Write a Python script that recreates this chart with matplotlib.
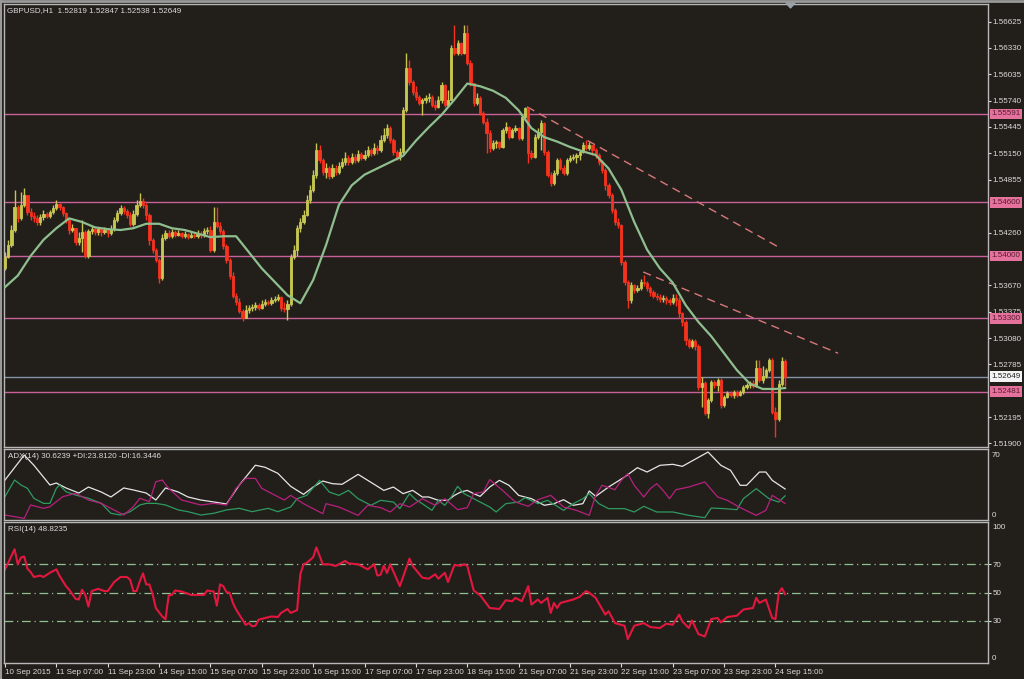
import numpy as np
import matplotlib
matplotlib.use('Agg')
import matplotlib.pyplot as plt
import matplotlib.transforms as mtrans
from matplotlib.lines import Line2D
from matplotlib.patches import Polygon

plt.rcParams['font.family'] = ['Liberation Sans', 'DejaVu Sans']

BG = '#221f1b'
FG = '#dcdcdc'
FRAME = '#b8b8b8'
BULL = '#c6c752'
BEAR = '#f4321e'

TITLE = 'GBPUSD,H1  1.52819 1.52847 1.52538 1.52649'

# hourly bars, 10 Sep 2015 15:00 -> 24 Sep 2015 18:00 (open = previous close)
OPEN0 = 1.5386
CLOSE = [
    1.5399, 1.5412, 1.5429, 1.5455, 1.5442, 1.5457, 1.5468, 1.5449, 1.5445, 1.5442,
    1.5438, 1.5444, 1.5447, 1.5445, 1.5449, 1.5454, 1.5458, 1.5455, 1.5448, 1.5440,
    1.5429, 1.5431, 1.5416, 1.5420, 1.5427, 1.5400, 1.5428, 1.5430, 1.5427, 1.5430,
    1.5427, 1.5429, 1.5426, 1.5430, 1.5440, 1.5448, 1.5454, 1.5450, 1.5446, 1.5436,
    1.5447, 1.5457, 1.5461, 1.5457, 1.5446, 1.5418, 1.5407, 1.5395, 1.5375, 1.5420,
    1.5426, 1.5422, 1.5427, 1.5423, 1.5426, 1.5422, 1.5424, 1.5421, 1.5423, 1.5422,
    1.5424, 1.5423, 1.5428, 1.5429, 1.5407, 1.5438, 1.5433, 1.5428, 1.5411, 1.5395,
    1.5377, 1.5355, 1.5348, 1.5338, 1.5330, 1.5339, 1.5342, 1.5343, 1.5345, 1.5342,
    1.5346, 1.5348, 1.5347, 1.5351, 1.5352, 1.5354, 1.5342, 1.5341, 1.5346, 1.5399,
    1.5407, 1.5431, 1.5438, 1.5446, 1.5463, 1.5474, 1.5491, 1.5519, 1.5507, 1.5494,
    1.5498, 1.5490, 1.5498, 1.5494, 1.5501, 1.5505, 1.5510, 1.5505, 1.5511, 1.5507,
    1.5514, 1.5510, 1.5513, 1.5519, 1.5515, 1.5521, 1.5519, 1.5530, 1.5535, 1.5543,
    1.5530, 1.5516, 1.5511, 1.5516, 1.5563, 1.5610, 1.5595, 1.5584, 1.5578, 1.5571,
    1.5575, 1.5577, 1.5578, 1.5569, 1.5567, 1.5575, 1.5591, 1.5569, 1.5575, 1.5633,
    1.5627, 1.5638, 1.5627, 1.5650, 1.5616, 1.5594, 1.5571, 1.5577, 1.5560, 1.5550,
    1.5538, 1.5521, 1.5526, 1.5528, 1.5522, 1.5541, 1.5544, 1.5533, 1.5541, 1.5543,
    1.5532, 1.5556, 1.5566, 1.5515, 1.5511, 1.5533, 1.5539, 1.5549, 1.5516, 1.5491,
    1.5482, 1.5493, 1.5507, 1.5498, 1.5493, 1.5507, 1.5510, 1.5511, 1.5513, 1.5516,
    1.5524, 1.5521, 1.5524, 1.5519, 1.5513, 1.5505, 1.5496, 1.5479, 1.5468, 1.5451,
    1.5438, 1.5435, 1.5393, 1.5371, 1.5351, 1.5367, 1.5362, 1.5364, 1.5371, 1.5370,
    1.5364, 1.5360, 1.5355, 1.5354, 1.5352, 1.5353, 1.5351, 1.5348, 1.5353, 1.5351,
    1.5336, 1.5326, 1.5306, 1.5299, 1.5305, 1.5299, 1.5253, 1.5258, 1.5224, 1.5239,
    1.5259, 1.5255, 1.5261, 1.5233, 1.5242, 1.5246, 1.5244, 1.5248, 1.5244, 1.5248,
    1.5253, 1.5255, 1.5258, 1.5254, 1.5274, 1.5261, 1.5266, 1.5272, 1.5283, 1.5225,
    1.5217, 1.5257, 1.52819, 1.52649,
]
HIGH = [
    1.5404, 1.5418, 1.5435, 1.5474, 1.5457, 1.5472, 1.5476, 1.5468, 1.5454, 1.5449,
    1.5446, 1.5447, 1.5451, 1.5449, 1.5451, 1.5457, 1.5463, 1.5459, 1.5456, 1.5449,
    1.5442, 1.5436, 1.5431, 1.5427, 1.5440, 1.5429, 1.5430, 1.5433, 1.5432, 1.5432,
    1.5431, 1.5432, 1.5430, 1.5435, 1.5444, 1.5451, 1.5457, 1.5456, 1.5452, 1.5449,
    1.5451, 1.5463, 1.5470, 1.5465, 1.5459, 1.5448, 1.5420, 1.5409, 1.5398, 1.5424,
    1.5429, 1.5429, 1.5430, 1.5429, 1.5429, 1.5427, 1.5428, 1.5426, 1.5427, 1.5427,
    1.5429, 1.5428, 1.5431, 1.5432, 1.5433, 1.5455, 1.5455, 1.5438, 1.5430, 1.5413,
    1.5398, 1.5382, 1.5358, 1.5353, 1.5340, 1.5345, 1.5345, 1.5346, 1.5348, 1.5347,
    1.5351, 1.5352, 1.5351, 1.5354, 1.5355, 1.5357, 1.5355, 1.5348, 1.5351, 1.5402,
    1.5412, 1.5435, 1.5442, 1.5451, 1.5468, 1.5479, 1.5496, 1.5526, 1.5524, 1.5510,
    1.5504, 1.5501, 1.5503, 1.5502, 1.5505, 1.5510, 1.5516, 1.5513, 1.5515, 1.5514,
    1.5519, 1.5516, 1.5519, 1.5523, 1.5521, 1.5526, 1.5524, 1.5535, 1.5543, 1.5548,
    1.5545, 1.5532, 1.5519, 1.5521, 1.5567, 1.5627, 1.5619, 1.5597, 1.5590, 1.5580,
    1.5577, 1.5580, 1.5582, 1.5580, 1.5575, 1.5579, 1.5595, 1.5592, 1.5586, 1.5636,
    1.5659, 1.5642, 1.5640, 1.5659, 1.5659, 1.5619, 1.5594, 1.5582, 1.5579, 1.5562,
    1.5554, 1.5541, 1.5530, 1.5530, 1.5529, 1.5543, 1.5550, 1.5545, 1.5543, 1.5547,
    1.5544, 1.5559, 1.5567, 1.5567, 1.5519, 1.5536, 1.5543, 1.5552, 1.5550, 1.5519,
    1.5494, 1.5496, 1.5510, 1.5510, 1.5502, 1.5510, 1.5513, 1.5514, 1.5515, 1.5519,
    1.5528, 1.5530, 1.5528, 1.5524, 1.5521, 1.5515, 1.5507, 1.5498, 1.5482, 1.5470,
    1.5454, 1.5442, 1.5436, 1.5395, 1.5373, 1.5371, 1.5369, 1.5367, 1.5374, 1.5379,
    1.5372, 1.5366, 1.5362, 1.5358, 1.5357, 1.5356, 1.5355, 1.5353, 1.5357, 1.5357,
    1.5354, 1.5337, 1.5328, 1.5308, 1.5307, 1.5307, 1.5301, 1.5264, 1.5260, 1.5241,
    1.5261, 1.5261, 1.5263, 1.5263, 1.5244, 1.5249, 1.5249, 1.5250, 1.5250, 1.5250,
    1.5255, 1.5258, 1.5260, 1.5261, 1.5283, 1.5283, 1.5277, 1.5274, 1.5286, 1.5286,
    1.5231, 1.5261, 1.5287, 1.52847,
]
LOW = [
    1.5384, 1.5398, 1.5410, 1.5427, 1.5438, 1.5440, 1.5455, 1.5446, 1.5440, 1.5438,
    1.5435, 1.5435, 1.5440, 1.5442, 1.5442, 1.5447, 1.5451, 1.5451, 1.5445, 1.5437,
    1.5425, 1.5427, 1.5412, 1.5412, 1.5404, 1.5398, 1.5398, 1.5425, 1.5423, 1.5423,
    1.5422, 1.5425, 1.5421, 1.5423, 1.5428, 1.5438, 1.5446, 1.5447, 1.5442, 1.5433,
    1.5433, 1.5445, 1.5455, 1.5454, 1.5440, 1.5412, 1.5403, 1.5393, 1.5370, 1.5373,
    1.5418, 1.5420, 1.5420, 1.5421, 1.5422, 1.5420, 1.5420, 1.5419, 1.5420, 1.5420,
    1.5420, 1.5420, 1.5421, 1.5424, 1.5404, 1.5404, 1.5431, 1.5424, 1.5408, 1.5392,
    1.5374, 1.5353, 1.5345, 1.5336, 1.5327, 1.5330, 1.5336, 1.5338, 1.5339, 1.5339,
    1.5341, 1.5344, 1.5345, 1.5345, 1.5348, 1.5350, 1.5338, 1.5337, 1.5328, 1.5344,
    1.5397, 1.5400, 1.5427, 1.5436, 1.5445, 1.5459, 1.5472, 1.5487, 1.5504, 1.5491,
    1.5487, 1.5486, 1.5487, 1.5491, 1.5492, 1.5498, 1.5502, 1.5502, 1.5503, 1.5504,
    1.5505, 1.5507, 1.5507, 1.5511, 1.5512, 1.5513, 1.5514, 1.5516, 1.5528, 1.5532,
    1.5526, 1.5513, 1.5507, 1.5507, 1.5513, 1.5561, 1.5591, 1.5580, 1.5575, 1.5569,
    1.5558, 1.5571, 1.5572, 1.5567, 1.5563, 1.5566, 1.5571, 1.5567, 1.5568, 1.5575,
    1.5625, 1.5625, 1.5625, 1.5626, 1.5614, 1.5590, 1.5568, 1.5569, 1.5558, 1.5548,
    1.5515, 1.5516, 1.5519, 1.5521, 1.5520, 1.5521, 1.5538, 1.5531, 1.5532, 1.5539,
    1.5530, 1.5530, 1.5552, 1.5504, 1.5508, 1.5510, 1.5531, 1.5519, 1.5513, 1.5488,
    1.5478, 1.5479, 1.5491, 1.5496, 1.5491, 1.5491, 1.5505, 1.5507, 1.5504, 1.5507,
    1.5515, 1.5519, 1.5519, 1.5513, 1.5510, 1.5502, 1.5493, 1.5474, 1.5465, 1.5448,
    1.5435, 1.5431, 1.5390, 1.5367, 1.5342, 1.5347, 1.5358, 1.5360, 1.5362, 1.5366,
    1.5361, 1.5355, 1.5353, 1.5351, 1.5348, 1.5348, 1.5346, 1.5345, 1.5346, 1.5344,
    1.5330, 1.5321, 1.5300, 1.5297, 1.5297, 1.5295, 1.5250, 1.5231, 1.5222, 1.5218,
    1.5236, 1.5252, 1.5249, 1.5230, 1.5231, 1.5241, 1.5242, 1.5241, 1.5242, 1.5243,
    1.5245, 1.5251, 1.5252, 1.5252, 1.5253, 1.5259, 1.5258, 1.5263, 1.5270, 1.5223,
    1.5197, 1.5215, 1.5254, 1.52538,
]

# moving average (sampled every 4 bars)
MA_T = list(range(0, 241, 4)) + [243]
MA_V = [
    1.5365, 1.5378, 1.5400, 1.5418, 1.5431, 1.5442, 1.5438, 1.5432, 1.5430, 1.5429,
    1.5431, 1.5436, 1.5436, 1.5431, 1.5429, 1.5425, 1.5421, 1.5422, 1.5422, 1.5404,
    1.5386, 1.5371, 1.5356, 1.5347, 1.5373, 1.5412, 1.5457, 1.5479, 1.5491, 1.5498,
    1.5505, 1.5512, 1.5529, 1.5544, 1.5558, 1.5575, 1.5593, 1.5590, 1.5585, 1.5577,
    1.5563, 1.5543, 1.5533, 1.5528, 1.5522, 1.5517, 1.5513, 1.5498, 1.5474, 1.5438,
    1.5407, 1.5386, 1.5370, 1.5345, 1.5326, 1.5310, 1.5291, 1.5272, 1.5257, 1.5251,
    1.5251, 1.5252,
]

LEVELS = [1.55591, 1.54600, 1.54000, 1.53300, 1.52481]
LAST = 1.52649
TREND1 = ([162.6, 241.4], [1.5567, 1.5409])
TREND2 = ([198.8, 259.5], [1.5382, 1.5291])

PRICE_TICKS = [1.56625, 1.56330, 1.56035, 1.55740, 1.55445, 1.55150, 1.54855,
               1.54260, 1.53670, 1.53375, 1.53080, 1.52785, 1.52195, 1.51900]

# ADX(14) panel
ADX_T = [0, 6, 9, 14, 16, 19, 23, 26, 30, 33, 37, 40, 44, 47, 50, 54, 57, 61, 65, 69, 73, 78, 81, 85,
         89, 91, 93, 96, 99, 102, 105, 107, 110, 113, 116, 118, 121, 124, 127, 130, 132, 135, 138,
         140, 142, 144, 146, 148, 151, 154, 157, 160, 164, 168, 171, 174, 177, 180, 182, 184, 188,
         193, 197, 200, 204, 208, 211, 214, 219, 223, 226, 229, 231, 235, 237, 239, 243]
ADX_V = [39.4, 64, 54, 34.5, 36.5, 31.6, 26.6, 32.5, 27.6, 22.7, 31.6, 29.6, 26.6, 19.7, 31.6, 27.6,
         22.7, 19.7, 17.8, 15.8, 34.5, 54, 52, 46,
         33.2, 29.2, 25.3, 32.5, 38.4, 35.8, 35.2, 39.1, 45, 39.1, 33.2, 29.2, 32.5, 26, 29.2, 22.7,
         22.7, 19.4, 19.4, 24.3, 27.6, 29.2, 26, 23.3, 32.5, 39.1, 34.2, 24.3, 21, 14.5, 16.1, 20,
         14.5, 16.1, 28.6, 23.3, 32.5, 42.4, 51.6, 47.3, 53.9, 54.9, 52.9, 58.2, 67, 53.9, 49, 34.2,
         34.2, 47.3, 47.3, 39.1, 30.6]
PDI_T = [0, 3, 5, 7, 9, 12, 14, 16, 17, 19, 22, 26, 30, 33, 36, 39, 42, 44, 47, 50, 54, 57, 61, 65,
         69, 73, 77, 82, 85,
         89, 91, 94, 98, 101, 104, 107, 110, 114, 117, 121, 123, 126, 128, 130, 133, 135, 137, 139,
         141, 143, 145, 148, 151, 153, 156, 160, 162, 166, 169, 172, 174, 177, 180, 182, 185, 188,
         193, 196, 199, 203, 208, 213, 218, 220, 224, 228, 230, 234, 238, 241, 243]
PDI_V = [23, 39.4, 34.5, 31.2, 21.4, 16.4, 16.4, 31.2, 34.5, 27.9, 24.6, 21.4, 16.4, 6.6, 4.9, 8.2,
         14.8, 16.4, 16.4, 14.8, 9.9, 8.2, 4.9, 6.6, 9.9, 11.5, 8.2, 11.5, 8.2,
         12.8, 21, 24.3, 39.1, 27.6, 24.3, 29.2, 21, 14.5, 19.4, 17.7, 11.2, 26, 20, 16.1, 9.5, 19.4,
         14.5, 22.7, 33.2, 26, 22.7, 17.7, 12.8, 7.9, 16.1, 17.7, 22, 16.1, 19.4, 13.5, 9.5, 16.1, 21,
         26, 16.1, 11.2, 11.2, 7.9, 13.5, 7.9, 7.9, 4.6, 2.3, 11.8, 11.2, 10.2, 21, 30.9, 21, 17.7, 23.8]
MDI_T = [0, 6, 8, 12, 14, 18, 22, 26, 30, 37, 40, 42, 45, 47, 49, 51, 55, 57, 61, 65, 69, 72, 75, 78,
         80, 84, 87,
         89, 93, 99, 100, 104, 110, 113, 117, 120, 123, 126, 130, 134, 137, 141, 144, 146, 149, 151,
         155, 159, 163, 166, 170, 174, 178, 182, 184, 186, 190, 192, 194, 196, 199, 201, 203, 205,
         207, 209, 213, 218, 222, 225, 229, 234, 237, 239, 243]
MDI_V = [4.9, 1.6, 14.8, 11.5, 13.1, 23, 26.3, 19.7, 16.4, 4.9, 13.1, 21.4, 18.1, 37.8, 39.4, 31.2,
         19.7, 18.1, 14.8, 16.4, 14.8, 31.2, 41, 41, 31.2, 24.6, 19.7,
         24.3, 16.1, 6.2, 16.1, 12.8, 4.6, 14.5, 12.2, 7.9, 16.1, 12.8, 21, 14.5, 21, 10.2, 12.2, 26,
         27.6, 39.8, 29.2, 17.7, 13.5, 20, 24.3, 12.8, 9.5, 4.6, 24.3, 34.2, 29.9, 39.1, 45.7, 34.2,
         22.7, 30.9, 35.8, 29.2, 21, 29.9, 32.5, 37.5, 22.7, 19.4, 12.2, 4.6, 9.5, 24.3, 16.3]

# RSI(14) panel
RSI_T = [0, 1, 3, 4, 5, 6, 7, 8, 9, 11, 12, 14, 16, 17, 19, 20, 22, 23, 24, 25, 26, 27, 29, 31, 32,
         34, 36, 38, 39, 40, 41, 42, 43, 44, 45, 46, 47, 49, 50, 51, 52, 53, 55, 58, 61, 62, 63, 65,
         66, 67, 68, 69, 70, 71, 72, 74, 75, 76, 77, 78, 79, 81, 83, 85, 86, 88, 89, 91, 92, 93, 94,
         96, 97, 99, 101, 103, 106, 107, 110, 113, 115, 116, 117, 118, 119, 120, 123, 126, 127, 130,
         132, 134, 135, 137, 138, 140, 142, 143, 144, 146, 148, 151, 154, 156, 158, 159, 161, 163,
         164, 166, 167, 169, 170, 171, 172, 173, 177, 179, 181, 182, 184, 187, 188, 190, 193, 194,
         196, 199, 201, 204, 206, 208, 210, 211, 213, 214, 216, 218, 220, 222, 223, 225, 228, 230,
         233, 234, 235, 237, 239, 240, 241, 242, 243]
RSI_V = [66.4, 71, 80.7, 70, 74.8, 75.5, 67, 64.5, 61, 62, 61, 64, 66.4, 61.9, 54.5, 52, 45.5, 45,
         52, 48.5, 40, 51, 52.6, 51, 51, 57.4, 61, 61, 59, 51, 51, 58, 63.6, 55.7, 55.7, 48.6, 39,
         33, 31, 48, 48.3, 51.4, 50.7, 48.3, 48.3, 48.3, 51.4, 50.7, 40.7, 55.7, 54.5, 50.2, 49.8,
         42.6, 37.9, 30.7, 27, 28.3, 26, 26.4, 30.7, 31.9, 33, 32.6, 35.5, 38.3, 35.5, 37.5, 63, 70,
         71, 75, 82, 70, 70, 68.8, 72.4, 70.7, 70, 66.4, 70, 62, 62.6, 69, 63.8, 70, 54.5, 74, 68.8,
         60.5, 59.8, 62.9, 59.8, 64, 57.4, 69.5, 69, 70, 69, 51.4, 48.1, 39, 38.3, 44.5, 43.8, 46.2,
         43.8, 54.5, 41.4, 45, 42.6, 46.2, 35.5, 42.6, 39, 42.6, 45, 46.9, 51, 49.8, 46.2, 34.3,
         36.7, 28.3, 26.4, 16.9, 26.4, 28.3, 25.5, 24.8, 27.9, 27.1, 34.3, 29.5, 24.8, 30.2, 20.5,
         18.8, 31.2, 31.9, 28.8, 32.6, 33.6, 37.9, 39, 46.2, 42.6, 45, 31.9, 31.2, 49.5, 53.1, 48.8]
RSI_LEVELS = [70, 50, 30]

TICK_LABELS = ['10 Sep 2015', '11 Sep 07:00', '11 Sep 23:00', '14 Sep 15:00', '15 Sep 07:00',
               '15 Sep 23:00', '16 Sep 15:00', '17 Sep 07:00', '17 Sep 23:00', '18 Sep 15:00',
               '21 Sep 07:00', '21 Sep 23:00', '22 Sep 15:00', '23 Sep 07:00', '23 Sep 23:00',
               '24 Sep 15:00']
TICK_BARS = list(range(0, 16 * len(TICK_LABELS), 16))

W, H = 1024, 679
FS = 5.8


def box(x0, y0, x1, y1):
    return [x0 / W, 1 - y1 / H, (x1 - x0) / W, (y1 - y0) / H]


fig = plt.figure(figsize=(W / 100, H / 100), dpi=100, facecolor=BG)
ax = fig.add_axes(box(4, 4, 988, 447))
ax_adx = fig.add_axes(box(4, 449, 988, 520), sharex=ax)
ax_rsi = fig.add_axes(box(4, 522, 988, 663), sharex=ax)

for a in (ax, ax_adx, ax_rsi):
    a.set_facecolor(BG)
    for s in a.spines.values():
        s.set_color(FRAME)
        s.set_linewidth(1)
    a.tick_params(axis='x', bottom=False, labelbottom=False)
    a.tick_params(axis='y', left=False, labelleft=False)
ax.set_xlim(-0.3, 306.2)

# ── candles ──
c = np.array(CLOSE)
h = np.array(HIGH)
l = np.array(LOW)
o = np.r_[OPEN0, c[:-1]]
idx = np.arange(len(c))
cols = np.where(c >= o, BULL, BEAR)
ax.vlines(idx, l, h, colors=cols, lw=1, zorder=3)
ax.bar(idx, np.abs(c - o), bottom=np.minimum(o, c), width=0.7, color=cols,
       edgecolor=cols, linewidth=0.6, zorder=4)
ax.plot(MA_T, MA_V, color='#8fbf8f', lw=1.6, zorder=5)

for v in LEVELS:
    ax.axhline(v, color='#c8609a', lw=1, zorder=2)
ax.axhline(LAST, color='#8494a8', lw=1, zorder=2)
for tx, ty in (TREND1, TREND2):
    ax.plot(tx, ty, color='#d8787a', lw=1, ls=(0, (6, 4)), zorder=2)
ax.set_ylim(1.51860, 1.56821)

ax.yaxis.tick_right()
ax.set_yticks(PRICE_TICKS)
ax.set_yticklabels([f'{v:.5f}' for v in PRICE_TICKS])
ax.tick_params(axis='y', right=True, labelright=True, colors=FG, labelsize=FS,
               length=2, width=0.8, pad=1.5)

trans = mtrans.blended_transform_factory(ax.transAxes, ax.transData)
for v in LEVELS:
    ax.text(1.0035, v, f'{v:.5f}', transform=trans, fontsize=FS, color='#5a1830',
            va='center', ha='left', clip_on=False, zorder=10,
            bbox=dict(boxstyle='square,pad=0.22', fc='#e4729c', ec='none'))
ax.text(1.0035, LAST, f'{LAST:.5f}', transform=trans, fontsize=FS, color='#202020',
        va='center', ha='left', clip_on=False, zorder=10,
        bbox=dict(boxstyle='square,pad=0.22', fc='#f4f4f4', ec='none'))
ax.text(0.003, 0.986, TITLE, transform=ax.transAxes, fontsize=FS, color=FG,
        va='center', ha='left')

# ── ADX ──
ax_adx.plot(ADX_T, ADX_V, color='#e6e6e6', lw=0.9)
ax_adx.plot(PDI_T, PDI_V, color='#2e9a60', lw=0.9)
ax_adx.plot(MDI_T, MDI_V, color='#b8207e', lw=0.9)
ax_adx.set_ylim(0, 70)
ax_adx.text(0.004, 0.9, 'ADX(14) 30.6239 +DI:23.8120 -DI:16.3446', transform=ax_adx.transAxes,
            fontsize=FS, color=FG, va='center', ha='left')
atrans = mtrans.blended_transform_factory(ax_adx.transAxes, ax_adx.transData)
for v, s in ((64, '70'), (4, '0')):
    ax_adx.text(1.004, v, s, transform=atrans, fontsize=FS, color=FG, va='center', ha='left',
                clip_on=False)

# ── RSI ──
for v in RSI_LEVELS:
    ax_rsi.axhline(v, color='#8fbf8f', lw=0.9, ls=(0, (7, 3, 1, 3)))
ax_rsi.plot(RSI_T, RSI_V, color='#e3173e', lw=1.5)
ax_rsi.set_ylim(0, 100)
ax_rsi.yaxis.tick_right()
ax_rsi.set_yticks(RSI_LEVELS)
ax_rsi.set_yticklabels([str(v) for v in RSI_LEVELS])
ax_rsi.tick_params(axis='y', right=True, labelright=True, colors=FG, labelsize=FS,
                   length=2, width=0.8, pad=1.5)
rtrans = mtrans.blended_transform_factory(ax_rsi.transAxes, ax_rsi.transData)
for v, s in ((96, '100'), (3.5, '0')):
    ax_rsi.text(1.004, v, s, transform=rtrans, fontsize=FS, color=FG, va='center', ha='left',
                clip_on=False)
ax_rsi.text(0.004, 0.95, 'RSI(14) 48.8235', transform=ax_rsi.transAxes, fontsize=FS,
            color=FG, va='center', ha='left')

ax_rsi.set_xticks(TICK_BARS)
ax_rsi.set_xticklabels(TICK_LABELS)
ax_rsi.tick_params(axis='x', bottom=True, labelbottom=True, colors=FG, labelsize=FS,
                   length=3, width=0.8, pad=1.5, direction='out')
for lb in ax_rsi.get_xticklabels():
    lb.set_ha('left')

# window frame + shift marker
fig.add_artist(Line2D([0, 1], [1 - 1 / H, 1 - 1 / H], color='#9a9a9a', lw=2))
fig.add_artist(Line2D([1 / W, 1 / W], [0, 1], color='#9a9a9a', lw=1.5))
fig.add_artist(Polygon([[786 / W, 1 - 3 / H], [795 / W, 1 - 3 / H], [790.5 / W, 1 - 8 / H]],
                       closed=True, color='#9aa0a8'))

fig.savefig('out.png', dpi=100, facecolor=BG)
